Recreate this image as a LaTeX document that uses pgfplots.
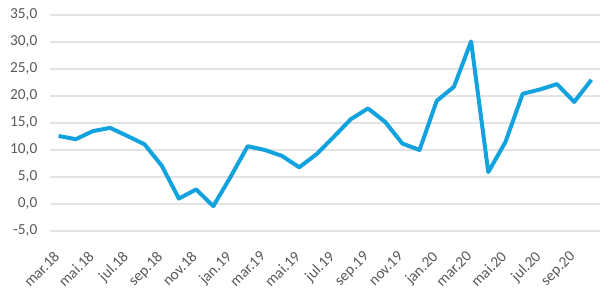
\documentclass[border=0pt]{standalone}
\usepackage{pgfplots}
\pgfplotsset{compat=1.18}
\usepackage{fontspec}
\setmainfont{Carlito}
\definecolor{linec}{HTML}{12A3DE}
\definecolor{gridc}{HTML}{E3E3E3}
\definecolor{labc}{HTML}{595959}
\begin{document}
\begin{tikzpicture}[x=1pt,y=1pt]
\begin{axis}[
  at={(0,0)}, anchor=south west,
  scale only axis,
  width=412.5pt, height=162pt,
  xmin=-0.5, xmax=31.5,
  ymin=-5, ymax=35,
  ytick={-5,0,5,10,15,20,25,30,35},
  xtick={0,2,4,6,8,10,12,14,16,18,20,22,24,26,28,30},
  xticklabels={mar.18,mai.18,jul.18,sep.18,nov.18,jan.19,mar.19,mai.19,jul.19,sep.19,nov.19,jan.20,mar.20,mai.20,jul.20,sep.20},
  axis line style={draw=none},
  major tick length=0pt,
  ymajorgrids,
  grid style={gridc, line width=0.8pt},
  tick label style={font=\fontsize{11.5}{13}\selectfont, text=labc},
  /pgf/number format/assume math mode=true,
  /pgf/number format/fixed,
  /pgf/number format/fixed zerofill,
  /pgf/number format/precision=1,
  /pgf/number format/use comma,
  yticklabel style={xshift=-6pt},
  xticklabel style={rotate=45, anchor=north east, inner sep=1pt, yshift=-6pt, xshift=-12pt},
  clip=false,
]
\addplot[linec, line width=3pt, line join=round, mark=none] coordinates {
(0,12.6) (1,12.0) (2,13.5) (3,14.1) (4,12.6) (5,11.05) (6,7.1) (7,1.0)
(8,2.7) (9,-0.4) (10,5.0) (11,10.7) (12,10.0) (13,8.9) (14,6.8) (15,9.2)
(16,12.4) (17,15.7) (18,17.7) (19,15.2) (20,11.2) (21,10.0) (22,19.1) (23,21.7)
(24,30.1) (25,5.9) (26,11.5) (27,20.4) (28,21.2) (29,22.2) (30,18.9) (31,23.0)
};
\end{axis}
\pgfresetboundingbox
\path (-37.5pt,-48pt) rectangle (423.75pt,173.25pt);
\end{tikzpicture}
\end{document}
